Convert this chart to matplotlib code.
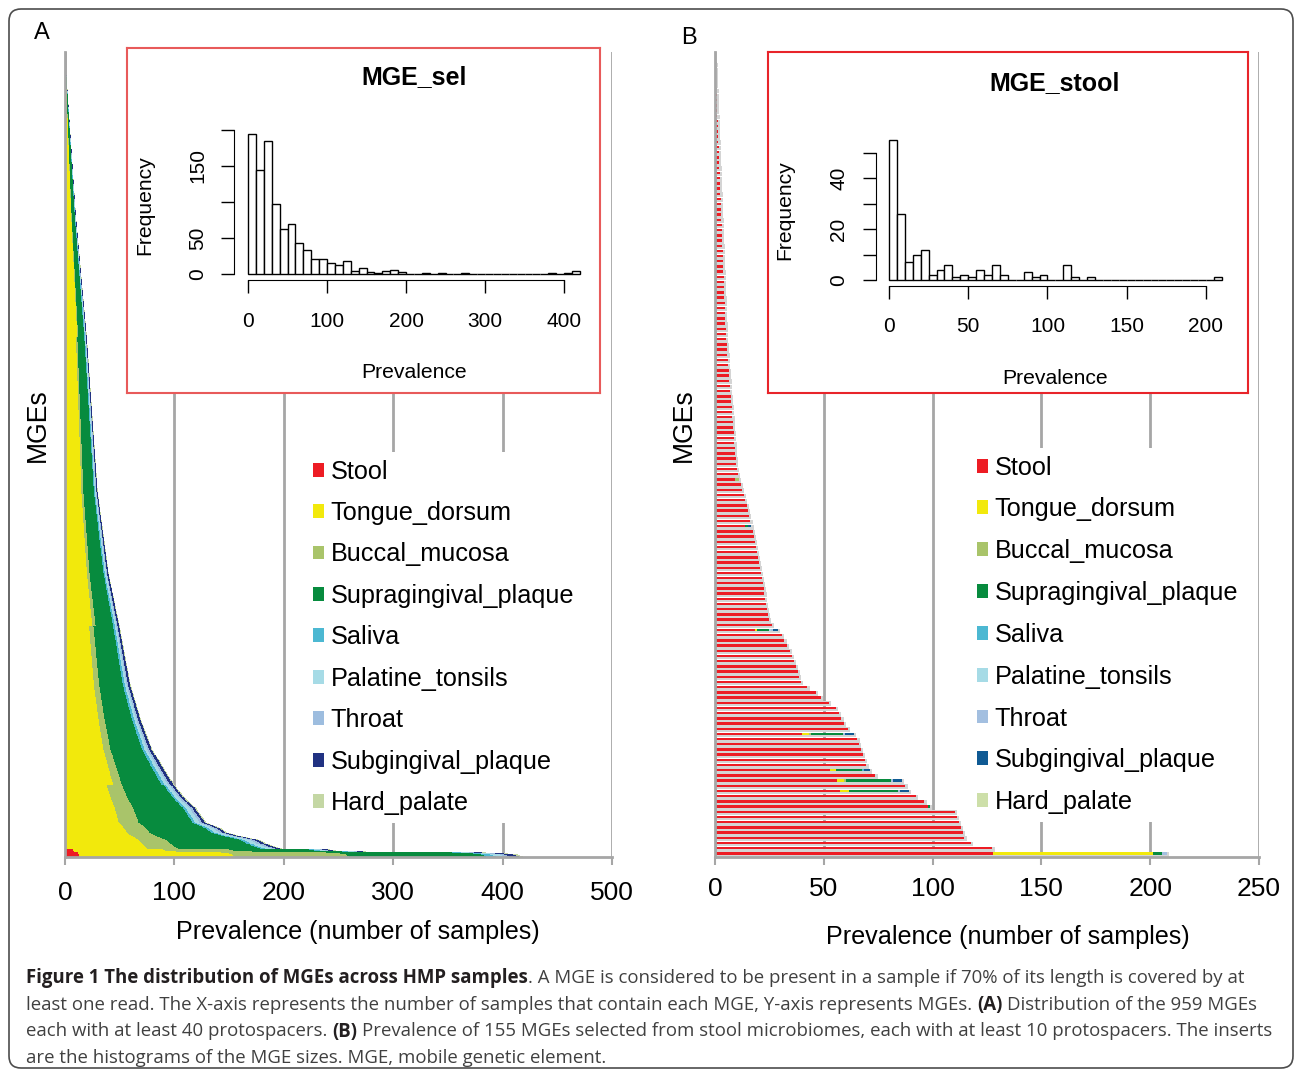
import numpy as np
import matplotlib
matplotlib.use("Agg")
import matplotlib.pyplot as plt
from matplotlib.patches import Patch, FancyBboxPatch
from matplotlib.transforms import IdentityTransform

W, H = 1295, 1072

sites = ["Stool", "Tongue_dorsum", "Buccal_mucosa", "Supragingival_plaque", "Saliva",
         "Palatine_tonsils", "Throat", "Subgingival_plaque", "Hard_palate"]
colors_a = ["#ed1c24", "#f2e90c", "#a9c46a", "#078b3e", "#4cb8d2",
            "#a6dbe6", "#9dbddf", "#213282", "#c4d7a4"]
colors_b = ["#ed1c24", "#f2e90c", "#a9c46a", "#078b3e", "#4cb8d2",
            "#a6dbe6", "#a3bfe0", "#0f5a94", "#cddfa9"]

# histogram counts
bin_width_a = 10
counts_a = [194, 145, 185, 97, 63, 70, 43, 34, 21, 21, 16, 12, 18, 4, 8, 3, 2, 4, 6, 3,
            0, 0, 1, 0, 2, 0, 0, 1, 0, 0, 0, 0, 0, 0, 0, 0, 0, 0, 1, 0, 1, 4]
bin_width_b = 5
counts_b = [55, 26, 7, 10, 12, 2, 4, 6, 1, 2, 1, 4, 2, 6, 2, 0, 0, 3, 1, 2, 0, 0,
            6, 1, 0, 1, 0, 0, 0, 0, 0, 0, 0, 0, 0, 0, 0, 0, 0, 0, 0, 1]

# panel A: share of each body site in a bar, by prevalence group
group_upper_a = [20, 50, 100, 200, 430]
share_stool = [0, 0, 0, 0, 0.03]
share_tongue = [0.56, 0.50, 0.44, 0.38, 0.34]
share_buccal = [0.04, 0.06, 0.08, 0.14, 0.25]
share_supra = [0.28, 0.32, 0.36, 0.38, 0.30]
share_saliva = [0.03, 0.03, 0.03, 0.02, 0.02]
share_tonsils = [0.03, 0.03, 0.03, 0.03, 0.02]
share_throat = [0.02, 0.02, 0.02, 0.02, 0.01]
share_subg = [0.03, 0.03, 0.03, 0.02, 0.02]
share_hard = [0.01, 0.01, 0.01, 0.01, 0.01]

# panel B: bars that are not pure stool (row from the top -> samples per site)
mixed_b = {
    82: [10, 0, 2, 0, 0, 0, 0, 0, 0],
    91: [14, 0, 0, 1.5, 0, 0, 0, 1.5, 0],
    111: [18, 1, 0, 5, 0, 1, 1, 2, 0],
    131: [39, 3, 1, 14, 0, 0, 1, 4, 0],
    138: [54, 3, 0, 12, 1, 0, 0, 3, 0],
    140: [57, 3, 1, 21, 0, 0, 1, 4, 0],
    142: [58, 4, 0, 23, 0, 0, 1, 4, 0],
    145: [98, 0, 0, 1, 0, 0, 0, 0, 0],
    154: [127, 73, 0, 4, 0, 0, 2, 0, 0],
}

caption = [
    [("Figure 1 The distribution of MGEs across HMP samples", True, False),
     (". A MGE is considered to be present in a sample if 70% of its length is covered by at", False, False)],
    [("least one read. The X-axis represents the number of samples that contain each MGE, Y-axis represents MGEs.", False, True),
     ("(A)", True, True), ("Distribution of the 959 MGEs", False, False)],
    [("each with at least 40 protospacers.", False, True), ("(B)", True, True),
     ("Prevalence of 155 MGEs selected from stool microbiomes, each with at least 10 protospacers. The inserts", False, False)],
    [("are the histograms of the MGE sizes. MGE, mobile genetic element.", False, False)],
]
caption_right = [1278, 1253, 1270, None]
caption_base = [983, 1010, 1036.5, 1063]

plt.rcParams["font.family"] = ["Liberation Sans", "DejaVu Sans"]
GRID = "#a6a6a6"


def box(x0, y0, x1, y1):
    # pixel box (top-left origin) -> figure fraction rect
    return [x0 / W, 1 - y1 / H, (x1 - x0) / W, (y1 - y0) / H]


def prevalence(counts, width):
    # the MGEs of each histogram bin, spread evenly across that bin
    vals = []
    for i, c in enumerate(counts):
        vals.extend(i * width + width * (np.arange(c) + 0.5) / max(c, 1))
    return np.array(vals)


def style_main(ax, xmax, step, n, pad):
    ax.set_xlim(0, xmax)
    ax.set_ylim(n - 0.5, -0.5)
    ax.set_xticks(np.arange(0, xmax + 1, step))
    ax.set_yticks([])
    ax.grid(axis="x", color=GRID, linewidth=2)
    ax.set_axisbelow(True)
    for s in ["top", "right"]:
        ax.spines[s].set_visible(False)
    for s in ["left", "bottom"]:
        ax.spines[s].set_color(GRID)
        ax.spines[s].set_linewidth(2)
    ax.tick_params(axis="x", direction="out", length=5.5, width=1.5, color=GRID,
                   labelsize=19, pad=pad)


def legend(ax, colors, x_px, y_px, spacing):
    handles = [Patch(facecolor=c, edgecolor="none") for c in colors]
    ax.legend(handles, sites, loc="upper left", bbox_to_anchor=(x_px / W, 1 - y_px / H),
              bbox_transform=fig.transFigure, frameon=True, facecolor="white",
              edgecolor="none", framealpha=1, fontsize=18.2, handlelength=0.47,
              handleheight=0.47, handletextpad=0.24, labelspacing=spacing,
              borderpad=0.3, borderaxespad=0)


def inset(frame_px, hist_px, edge, counts, width, xlim, ylim, xbound, ybound,
          yticks, ylabels, title, tcx, ty, px_y, freq_x, freq_y, xpad, ypad):
    fr = fig.add_axes(box(*frame_px))
    fr.set_xticks([])
    fr.set_yticks([])
    for s in fr.spines.values():
        s.set_color(edge)
        s.set_linewidth(1.5)
    h = fig.add_axes(box(*hist_px))
    h.set_facecolor("none")
    lefts = np.arange(len(counts)) * width
    h.bar(lefts, counts, width=width, align="edge", color="white", edgecolor="black",
          linewidth=1)
    h.set_xlim(*xlim)
    h.set_ylim(*ylim)
    for s in ["top", "right"]:
        h.spines[s].set_visible(False)
    h.spines["bottom"].set_bounds(*xbound)
    h.spines["left"].set_bounds(*ybound)
    xt = np.linspace(xbound[0], xbound[1], 5)
    h.set_xticks(xt)
    h.set_xticklabels([str(int(v)) for v in xt])
    h.set_yticks(yticks)
    h.set_yticklabels(ylabels, rotation=90, va="center")
    h.tick_params(axis="x", length=9.5, width=1, labelsize=15, pad=xpad)
    h.tick_params(axis="y", length=9.5, width=1, labelsize=15, pad=ypad)
    fig.text(tcx / W, 1 - ty / H, title, fontsize=18, weight="bold", ha="center", va="center")
    fig.text(tcx / W, 1 - px_y / H, "Prevalence", fontsize=15.2, ha="center", va="center")
    fig.text(freq_x / W, 1 - freq_y / H, "Frequency", fontsize=15.2, rotation=90,
             ha="center", va="center")


fig = plt.figure(figsize=(W / 100, H / 100), dpi=100)

# ---- panel A ----
prev_a = prevalence(counts_a, bin_width_a)
shares_a = np.array([share_stool, share_tongue, share_buccal, share_supra, share_saliva,
                     share_tonsils, share_throat, share_subg, share_hard])
grp = np.searchsorted(group_upper_a, prev_a, side="right")
amounts_a = shares_a[:, grp] * prev_a

ax_a = fig.add_axes(box(65, 52, 612, 857))
ya = np.arange(len(prev_a))
left = np.zeros(len(prev_a))
for k in range(len(sites)):
    ax_a.barh(ya, amounts_a[k], left=left, height=1.0, color=colors_a[k], linewidth=0)
    left += amounts_a[k]
style_main(ax_a, 500, 100, len(prev_a), 12)
legend(ax_a, colors_a, 305, 452, 0.69)

# ---- panel B ----
prev_b = prevalence(counts_b, bin_width_b)
amounts_b = np.zeros((len(sites), len(prev_b)))
amounts_b[0] = prev_b
for idx, parts in mixed_b.items():
    parts = np.array(parts, dtype=float)
    amounts_b[:, idx] = parts * prev_b[idx] / parts.sum()

ax_b = fig.add_axes(box(715, 52, 1259, 857))
ax_b.barh(np.arange(len(prev_b)), prev_b + 1.0, height=0.92, color="#d4d4d4", linewidth=0)
yb = np.arange(len(prev_b)) - 0.2
left = np.zeros(len(prev_b))
for k in range(len(sites)):
    ax_b.barh(yb, amounts_b[k], left=left, height=0.46, color=colors_b[k], linewidth=0)
    left += amounts_b[k]
style_main(ax_b, 250, 50, len(prev_b), 9.2)
legend(ax_b, colors_b, 969, 448, 0.705)

# ---- inserts ----
inset((127, 48, 600, 393), (233.8, 124.2, 589.3, 279.8), "#e85a5a", counts_a, bin_width_a,
      (-18, 432), (-8, 208), (0, 400), (0, 200), [0, 50, 100, 150, 200],
      ["0", "50", "", "150", ""], "MGE_sel", 414, 77, 372, 145, 205, 13.5, 9.6)
inset((768, 52, 1248, 393), (876, 132.7, 1234.5, 286), "#e8242a", counts_b, bin_width_b,
      (-8.2, 218), (-2.36, 58), (0, 200), (0, 50), [0, 10, 20, 30, 40, 50],
      ["0", "", "20", "", "40", ""], "MGE_stool", 1055, 83, 378, 785, 210, 12.6, 10.6)

# ---- labels ----
fig.text(42 / W, 1 - 33 / H, "A", fontsize=17, ha="center", va="center")
fig.text(689 / W, 1 - 38 / H, "B", fontsize=17, ha="center", va="center")
fig.text(358 / W, 1 - 932 / H, "Prevalence (number of samples)", fontsize=18.1,
         ha="center", va="center")
fig.text(1008 / W, 1 - 937 / H, "Prevalence (number of samples)", fontsize=18.1,
         ha="center", va="center")
fig.text(38 / W, 1 - 425 / H, "MGEs", fontsize=19.2, rotation=90, ha="center", va="center")
fig.text(684 / W, 1 - 425 / H, "MGEs", fontsize=19.2, rotation=90, ha="center", va="center")

# ---- caption ----
renderer = fig.canvas.get_renderer()


def text_width(s, size, bold):
    t = fig.text(0, 0, s, fontsize=size, family="Open Sans",
                 weight="bold" if bold else "normal")
    w = t.get_window_extent(renderer).width
    t.remove()
    return w


def line_width(pieces, size):
    sp = text_width("a a", size, False) - text_width("aa", size, False)
    return sum(text_width(s, size, b) + (sp if gap else 0) for s, b, gap in pieces)


cap_fs = min(12 * (r - 26) / line_width(p, 12)
             for p, r in zip(caption, caption_right) if r)
space = text_width("a a", cap_fs, False) - text_width("aa", cap_fs, False)
for pieces, base in zip(caption, caption_base):
    x = 26
    for s, bold, gap in pieces:
        fig.text(x / W, 1 - base / H, s, fontsize=cap_fs, family="Open Sans",
                 weight="bold" if bold else "normal",
                 color="#231f20" if bold else "#404040", ha="left", va="baseline")
        x += text_width(s, cap_fs, bold) + (space if gap else 0)

frame = FancyBboxPatch((9, H - 1068), 1284, 1059, boxstyle="round,pad=0,rounding_size=12",
                       transform=IdentityTransform(), facecolor="none",
                       edgecolor="#4d4d4d", linewidth=1.2)
fig.add_artist(frame)

fig.savefig("out.png", dpi=100)
